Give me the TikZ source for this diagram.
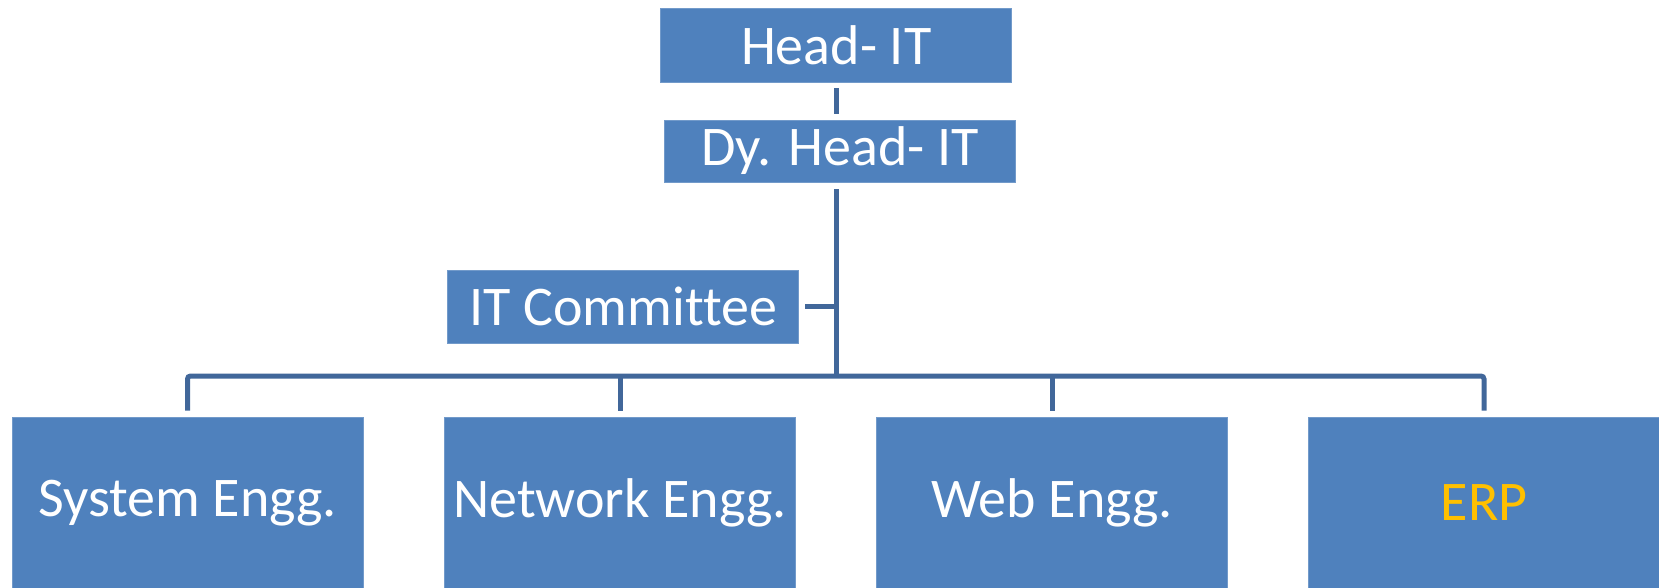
\documentclass[tikz,border=0pt]{standalone}
\usepackage{fontspec}
\setmainfont[Ligatures=NoCommon]{Carlito}
\definecolor{boxblue}{HTML}{4F81BD}
\definecolor{linkblue}{HTML}{41679A}
\definecolor{gold}{HTML}{FFC000}
\begin{document}
\begin{tikzpicture}[x=1pt,y=-1pt,
  orgbox/.style={rectangle,fill=boxblue,draw=boxblue!80!white,line width=0.8pt,inner sep=0pt,
    minimum width=351pt,text=white,font=\fontsize{56}{64}\selectfont},
  conn/.style={draw=linkblue,line width=5pt}]
\useasboundingbox (0,0) rectangle (1659,587);
\node[orgbox,minimum height=74pt] (head) at (836.2,45.5) {Head- IT};
\node[orgbox,minimum height=62pt] (dy) at (840,151) {Dy. Head- IT};
\node[orgbox,minimum height=73pt] (itc) at (623.3,306.7) {IT Committee};
\node[orgbox,minimum height=172pt] (sys) at (187.5,503) {System Engg.};
\node[orgbox,minimum height=172pt] (net) at (620,503) {Network Engg.};
\node[orgbox,minimum height=172pt] (web) at (1052,503) {Web Engg.};
\node[orgbox,minimum height=172pt,text=gold] (erp) at (1484,503) {ERP};
\coordinate (bus) at (836,376);
\draw[conn,shorten <=5.5pt,shorten >=6pt] (bus |- head.south) -- (bus |- dy.north);
\draw[conn,shorten <=7pt] (bus |- dy.south) -- (bus);
\draw[conn,shorten <=6pt] (itc.east) -- (itc.east -| bus);
\draw[conn,rounded corners=3pt,shorten <=6pt,shorten >=6pt] (sys.north) -- (sys.north |- bus) -- (erp.north |- bus) -- (erp.north);
\draw[conn,shorten >=6pt] (net.north |- bus) -- (net.north);
\draw[conn,shorten >=6pt] (web.north |- bus) -- (web.north);
\end{tikzpicture}
\end{document}
